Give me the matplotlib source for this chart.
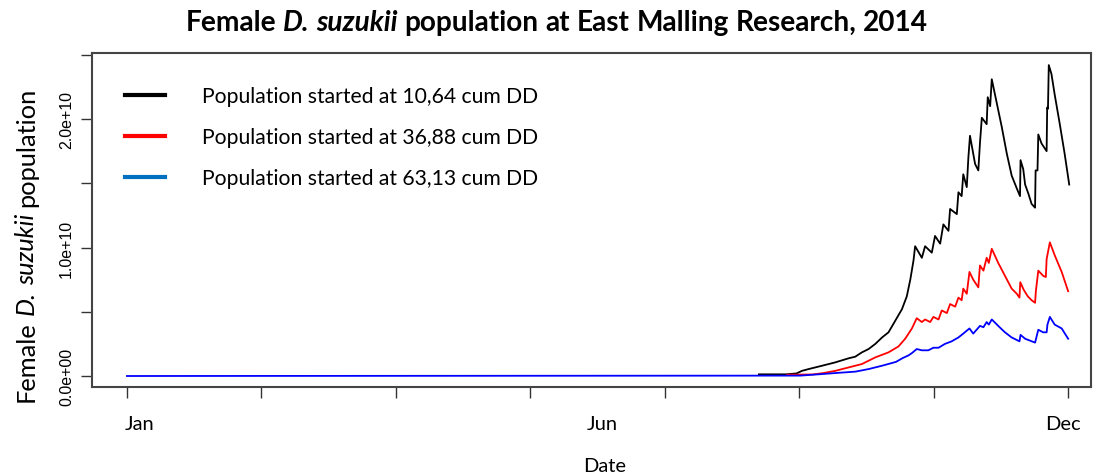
import numpy as np
import matplotlib
matplotlib.use("Agg")
import matplotlib.pyplot as plt
from matplotlib.lines import Line2D
import matplotlib.transforms as mtransforms

# day of year (0 = 1 Jan), female numbers in units of 1e10
days_black = [235, 245, 249, 251, 253.5, 258.5, 263.4, 268.4, 270.8, 273.3, 275.8,
              278.3, 280.8, 283.2, 285.7, 288.2, 290, 291.3, 292.5, 293.1, 295.6,
              296.8, 299.3, 300.5, 302.4, 303.6, 305.5, 306.1, 308.6, 309.2, 310.4,
              311, 312.3, 312.9, 313.5, 315.4, 316.6, 317.2, 317.9, 319.7, 320.1,
              321, 321.6, 323.5, 325.3, 327.2, 329, 330.9, 332.1, 332.3, 333.3, 334,
              335.2, 336.4, 337.7, 337.9, 338.6, 338.9, 340.1, 342, 342.2, 342.5,
              342.8, 343.8, 345, 346.9, 348.7, 350.4]
pop_black = [0.013, 0.013, 0.02, 0.04, 0.054, 0.08, 0.106, 0.138, 0.15, 0.184, 0.21,
             0.25, 0.30, 0.34, 0.43, 0.52, 0.62, 0.75, 0.90, 1.01, 0.92,
             1.01, 0.96, 1.09, 1.03, 1.18, 1.13, 1.30, 1.26, 1.43, 1.40,
             1.57, 1.47, 1.70, 1.87, 1.65, 1.60, 1.81, 2.01, 1.96, 2.17,
             2.10, 2.31, 2.12, 1.94, 1.73, 1.56, 1.46, 1.40, 1.68, 1.61, 1.49,
             1.42, 1.34, 1.31, 1.60, 1.60, 1.88, 1.81, 1.75, 2.09, 2.08,
             2.42, 2.35, 2.19, 1.96, 1.73, 1.49]

days_red = [245.5, 255, 259, 263.4, 268.4, 273.3, 278.3, 283.2, 286.9, 289.4, 291.9,
            293.7, 295.6, 296.8, 298.7, 299.9, 301.8, 303, 304.9, 306.1, 308, 309.2,
            310.4, 311, 312.3, 313.3, 314.7, 316.6, 317.2, 318.5, 319.7, 320.5, 321.6,
            324, 326.5, 329, 330.9, 331.9, 332.2, 333.5, 335, 336.4, 337.7, 338,
            338.9, 340.7, 341.7, 342, 343.2, 345, 347.6, 350]
pop_red = [0.01, 0.012, 0.023, 0.04, 0.067, 0.093, 0.145, 0.184, 0.23, 0.29, 0.37,
           0.45, 0.42, 0.44, 0.42, 0.46, 0.44, 0.51, 0.49, 0.56, 0.54, 0.61,
           0.59, 0.68, 0.64, 0.81, 0.75, 0.69, 0.86, 0.82, 0.92, 0.88, 0.99,
           0.88, 0.78, 0.68, 0.64, 0.61, 0.73, 0.67, 0.62, 0.59, 0.57, 0.66,
           0.82, 0.78, 0.77, 0.91, 1.04, 0.94, 0.81, 0.66]

days_blue = [0, 250.4, 258.5, 263.4, 270.9, 275.8, 280.8, 286, 288.5, 290.6, 292,
             293.7, 295.6, 298, 299.9, 301.8, 304.2, 306.7, 309.2, 311, 313.3, 314.7,
             317.2, 318.5, 319.7, 320.5, 321.6, 324, 326.5, 329, 331.9, 332.3, 334,
             337.7, 338.3, 338.9, 340.7, 342, 342.3, 343.2, 345, 347.6, 350]
pop_blue = [0, 0.003, 0.015, 0.023, 0.034, 0.054, 0.08, 0.11, 0.14, 0.16, 0.18,
            0.21, 0.20, 0.20, 0.22, 0.22, 0.25, 0.27, 0.30, 0.33, 0.37, 0.33,
            0.39, 0.38, 0.42, 0.40, 0.44, 0.39, 0.34, 0.30, 0.27, 0.32, 0.29,
            0.26, 0.31, 0.36, 0.34, 0.34, 0.40, 0.46, 0.40, 0.37, 0.29]

legend_labels = ["Population started at 10,64 cum DD",
                 "Population started at 36,88 cum DD",
                 "Population started at 63,13 cum DD"]
legend_colors = ["black", "#ff0000", "#0070c0"]

month_names = ["Jan", "Jun", "Dec"]
month_pos = [4.8, 176.7, 348.2]

title_parts = [("Female", "normal"), ("D. suzukii", "italic"),
               ("population at East Malling Research, 2014", "normal")]
ylabel_parts = [("Female", "normal"), ("D. suzukii", "italic"), ("population", "normal")]

W, H = 1096, 477
fig = plt.figure(figsize=(W / 100, H / 100), dpi=100)
ax = fig.add_axes([92 / W, 1 - 388 / H, (1091 - 92) / W, (388 - 54) / H])

ax.plot(days_black, np.array(pop_black) * 1e10, color="black", lw=1.3)
ax.plot(days_red, np.array(pop_red) * 1e10, color="#ff0000", lw=1.3)
ax.plot(days_blue, np.array(pop_blue) * 1e10, color="#0000ff", lw=1.3)

ax.set_xlim(-13, 358.5)
ax.set_ylim(-0.0856e10, 2.514e10)
ax.set_xticks(np.arange(0, 351, 50))
ax.set_xticklabels([])
yt = np.arange(0, 2.6, 0.5) * 1e10
ax.set_yticks(yt)
ax.set_yticklabels(["0.0e+00", "", "1.0e+10", "", "2.0e+10", ""],
                   rotation=90, va="center", family="Liberation Sans", fontsize=11.5)
ax.tick_params(length=8, width=1, color="#333333", pad=5)
for s in ax.spines.values():
    s.set_linewidth(1.5)
    s.set_color("#444444")

trans = mtransforms.blended_transform_factory(ax.transData, fig.transFigure)
for name, pos in zip(month_names, month_pos):
    ax.text(pos, 1 - 425 / H, name, transform=trans, ha="center", va="center",
            family="Lato", fontsize=14.5)

fig.text(605 / W, 1 - 467 / H, "Date", ha="center", va="center", family="Lato", fontsize=14.5)


def rich_line(parts, centre, base, size, weight="normal", vertical=False):
    # words laid one after another, centred on `centre` (pixels, y counted from top)
    r = fig.canvas.get_renderer()

    def width(s, style):
        t = fig.text(0, 0, s, family="Lato", size=size, weight=weight, style=style)
        w = t.get_window_extent(r).width
        t.remove()
        return w

    space = width("x x", "normal") - width("xx", "normal")
    words = [(w, st) for s, st in parts for w in s.split()]
    ws = [width(w, st) for w, st in words]
    total = sum(ws) + space * (len(ws) - 1)
    off = 0
    for (w, st), wd in zip(words, ws):
        if vertical:
            y_pix = centre + total / 2 - off
            fig.text(base / W, 1 - y_pix / H, w, family="Lato", size=size, weight=weight,
                     style=st, rotation=90, rotation_mode="anchor", ha="left", va="baseline")
        else:
            x_pix = centre - total / 2 + off
            fig.text(x_pix / W, 1 - base / H, w, family="Lato", size=size, weight=weight,
                     style=st, ha="left", va="baseline")
        off += wd + space


rich_line(title_parts, 557, 31, 20.2, weight="bold")
rich_line(ylabel_parts, 245, 34, 18.3, vertical=True)

handles = [Line2D([], [], color=c, lw=3) for c in legend_colors]
ax.legend(handles, legend_labels, loc="upper left", bbox_to_anchor=(108 / W, 1 - 70 / H),
          bbox_transform=fig.transFigure, frameon=False, prop={"family": "Lato", "size": 15.2},
          handlelength=1.9, handletextpad=1.75, labelspacing=1.0, borderpad=0.3)

fig.savefig("out.png", dpi=100)
